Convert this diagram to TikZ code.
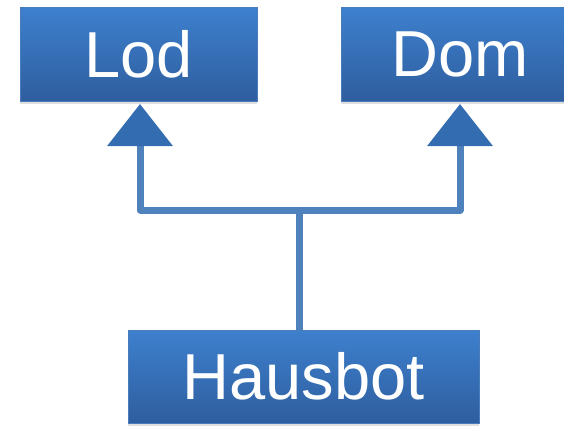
\documentclass[tikz,border=0pt]{standalone}
\usepackage{fontspec}
\setmainfont{Liberation Sans}
\usetikzlibrary{arrows.meta,shadows}
\definecolor{boxtop}{RGB}{62,128,206}
\definecolor{boxbot}{RGB}{46,94,158}
\definecolor{boxedge}{RGB}{72,124,186}
\definecolor{connc}{RGB}{79,129,189}
\definecolor{tipc}{RGB}{52,108,178}
\tikzset{
  classbox/.style={draw=boxedge, line width=0.8pt, top color=boxtop, bottom color=boxbot,
    text=white, font=\fontsize{65}{70}\selectfont, inner sep=0pt,
    drop shadow={opacity=0.25, shadow xshift=0pt, shadow yshift=-3pt}},
  conn/.style={draw=connc, line width=7pt, line join=round,
    -{Triangle[width=64pt,length=42pt,color=tipc]}},
}
\begin{document}
\begin{tikzpicture}[x=1pt,y=-1pt]
\useasboundingbox (0,0) rectangle (564,426);
\node[classbox, minimum width=237pt, minimum height=94pt] (lod) at (138.5,54) {Lod};
\node[classbox, minimum width=238pt, minimum height=94pt] (dom) at (460,54) {Dom};
\node[classbox, minimum width=351pt, minimum height=93pt] (haus) at (303.5,376.5) {Hausbot};
\coordinate (lodtip) at (140,104);
\coordinate (domtip) at (460,104);
\coordinate (junc) at (299,210);
\draw[conn] (haus.north -| junc) -- (junc) -| (lodtip);
\draw[conn] (junc) -| (domtip);
\end{tikzpicture}
\end{document}
